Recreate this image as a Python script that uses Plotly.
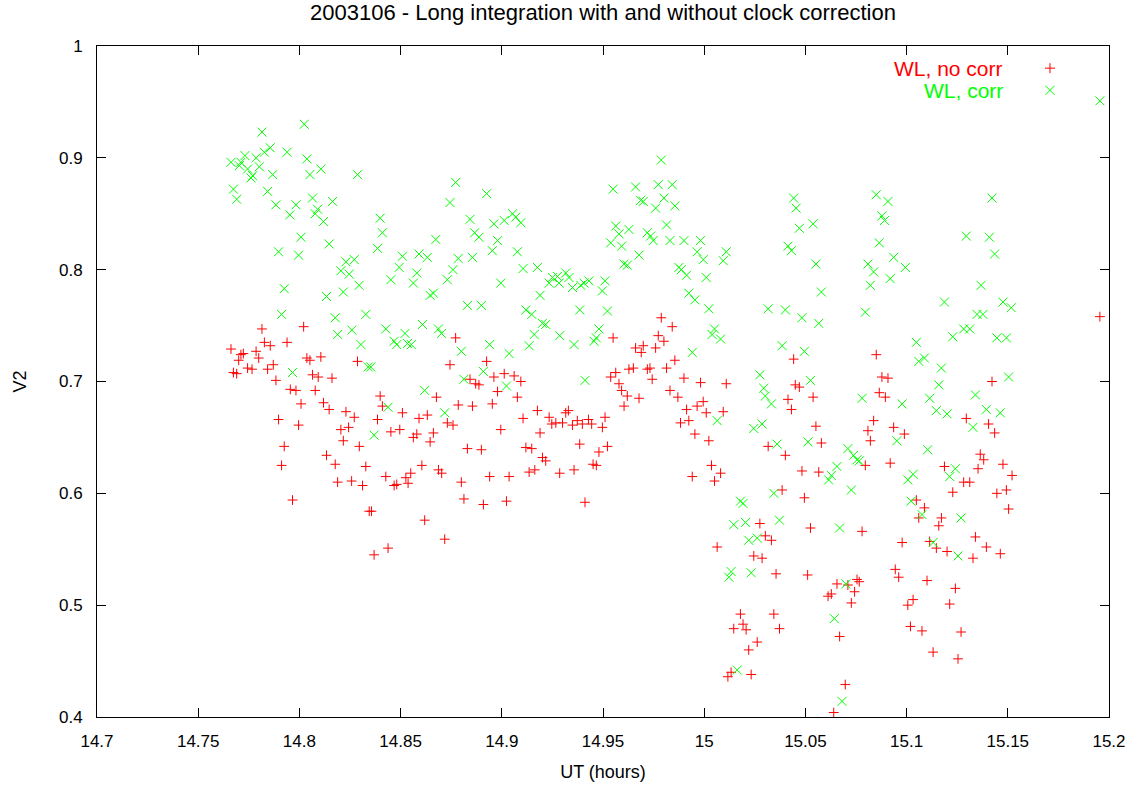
import plotly.graph_objects as go

# ---------------- data ----------------
ut_nocorr = [
    14.7815, 14.8021, 14.7827, 14.7856, 14.7939, 14.7662, 14.7723, 14.7711, 14.7786, 14.7700,
    14.7799, 14.7871, 14.7744, 14.7766, 14.7843, 14.7674, 14.7690, 14.8037, 14.8052, 14.8106,
    14.8287, 14.7884, 14.8065, 14.8093, 14.8161, 14.7955, 14.7983, 14.8078, 14.8008, 14.8119,
    14.8147, 14.8230, 14.8271,
    14.7897, 14.7996, 14.8243, 14.8205, 14.8217, 14.8296, 14.7925, 14.8134, 14.8177, 14.7912,
    14.8189, 14.8258, 14.7966,
    14.8772, 14.8744, 14.8925, 14.8961, 14.8843, 14.8871, 14.8887, 14.8399, 14.8677, 14.8410,
    14.8785, 14.8855, 14.8953, 14.8509, 14.8632,
    14.8386, 14.8591, 14.8731, 14.8759, 14.8452, 14.8496, 14.8563, 14.8580, 14.8662, 14.8646,
    14.8830, 14.8899, 14.8328, 14.8427, 14.8605, 14.8550, 14.8526, 14.8468, 14.8481, 14.8537,
    14.8687, 14.8703, 14.8800, 14.8940, 14.8312, 14.8813, 14.8909, 14.8345, 14.8356, 14.8619,
    14.8718, 14.8438, 14.8369,
    14.9550, 14.9012, 14.9061, 14.9094, 14.8979, 14.9077, 14.9563, 14.9538, 14.9579, 14.9592,
    14.9628, 14.9620, 14.9604, 14.9176, 14.9316, 14.9329,
    14.9105, 14.9234, 14.9247, 14.9267, 14.9300, 14.9349, 14.9373, 14.9398, 14.9428, 14.9444,
    14.9510, 14.9497, 14.8995, 14.9189, 14.9385, 14.9522, 14.9119, 14.9148, 14.9480, 14.9201,
    14.9217, 14.9451, 14.9467, 14.9135, 14.9163, 14.9286, 14.9357, 14.9036, 14.9023, 14.9411,
    14.9788, 14.9842, 14.9773, 14.9801, 14.9661, 14.9699, 14.9689, 14.9760, 14.9855, 14.9650,
    14.9719, 14.9732, 14.9814, 14.9743, 14.9900, 14.9982, 15.0109, 14.9831, 14.9870, 14.9678,
    14.9913, 14.9965, 14.9995, 15.0010, 15.0094,
    14.9883, 14.9924, 14.9954, 15.0023, 15.0036, 15.0081, 14.9941, 15.0051, 15.0275, 15.0064,
    15.0245, 15.0286, 15.0179, 15.0192, 15.0146, 15.0207, 15.0262, 15.0220, 15.0133, 15.0117,
    15.0232,
    15.0442, 15.0450, 15.0470, 15.0538, 15.0414, 15.0431, 15.0850, 15.0878, 15.0908, 15.0865,
    15.0895,
    15.0552, 15.0837, 15.0936, 15.0809, 15.0821, 15.0316, 15.0579, 15.0401, 15.0483, 15.0566,
    15.0796, 15.0919, 15.0385, 15.0495, 15.0525, 15.0780, 15.0302, 15.0332, 15.0355, 15.0511,
    15.0944, 15.0961, 15.0656, 15.0710, 15.0755, 15.0766, 15.0743, 15.0628, 15.0612, 15.0727,
    15.0344, 15.0372, 15.0669, 15.0697, 15.0640,
    15.1422,
    15.1295, 15.1405, 15.1435, 15.0989, 15.1364, 15.1381, 15.1476, 15.1187, 15.1353, 15.1521,
    15.1282, 15.1312, 15.1493, 15.1446, 15.1228, 15.1048, 15.1088, 15.1504, 15.1060, 15.1172,
    15.1159, 15.1340, 15.0978, 15.1114, 15.1147, 15.1200, 15.1394, 15.1463, 15.1328, 15.1101,
    15.1241, 15.1032, 15.1006, 15.1213, 15.1019, 15.1076, 15.1269, 15.1131, 15.1254,
    15.1955,
]
v2_nocorr = [
    0.747, 0.749, 0.735, 0.732, 0.735, 0.729, 0.725, 0.724, 0.727, 0.719,
    0.721, 0.715, 0.712, 0.711, 0.711, 0.708, 0.707, 0.721, 0.719, 0.722,
    0.718, 0.701, 0.706, 0.704, 0.703, 0.693, 0.692, 0.692, 0.680, 0.681,
    0.675, 0.673, 0.668,
    0.666, 0.661, 0.659, 0.657, 0.647, 0.642, 0.642, 0.634, 0.626, 0.625,
    0.610, 0.611, 0.594,
    0.739, 0.715, 0.718, 0.704, 0.702, 0.698, 0.697, 0.687, 0.686, 0.678,
    0.679, 0.678, 0.680, 0.672, 0.670,
    0.666, 0.667, 0.663, 0.661, 0.655, 0.657, 0.650, 0.653, 0.654, 0.646,
    0.640, 0.639, 0.624, 0.615, 0.625, 0.618, 0.614, 0.607, 0.608, 0.609,
    0.621, 0.618, 0.610, 0.615, 0.607, 0.595, 0.590, 0.584, 0.584, 0.576,
    0.559, 0.551, 0.545,
    0.739, 0.707, 0.705, 0.700, 0.691, 0.686, 0.708, 0.704, 0.698, 0.692,
    0.711, 0.687, 0.678, 0.674, 0.672, 0.674,
    0.667, 0.668, 0.662, 0.663, 0.663, 0.661, 0.665, 0.662, 0.666, 0.662,
    0.668, 0.659, 0.657, 0.654, 0.644, 0.642, 0.641, 0.640, 0.637, 0.632,
    0.629, 0.626, 0.625, 0.619, 0.621, 0.618, 0.621, 0.615, 0.593, 0.592,
    0.757, 0.749, 0.741, 0.736, 0.730, 0.732, 0.726, 0.730, 0.719, 0.712,
    0.711, 0.712, 0.712, 0.702, 0.703, 0.699, 0.698, 0.692, 0.686, 0.685,
    0.675, 0.678, 0.682, 0.672, 0.673,
    0.663, 0.665, 0.653, 0.647, 0.625, 0.618, 0.615, 0.611, 0.573, 0.552,
    0.544, 0.542, 0.492, 0.483, 0.479, 0.478, 0.467, 0.460, 0.440, 0.436,
    0.438,
    0.720, 0.697, 0.695, 0.686, 0.684, 0.675, 0.724, 0.704, 0.703, 0.690,
    0.686,
    0.660, 0.665, 0.659, 0.656, 0.647, 0.642, 0.645, 0.634, 0.620, 0.619,
    0.625, 0.627, 0.603, 0.596, 0.569, 0.566, 0.562, 0.558, 0.528, 0.527,
    0.532, 0.525, 0.519, 0.518, 0.523, 0.521, 0.512, 0.510, 0.508, 0.502,
    0.492, 0.479, 0.472, 0.429, 0.404,
    0.700,
    0.667, 0.662, 0.654, 0.653, 0.635, 0.630, 0.626, 0.624, 0.622, 0.616,
    0.610, 0.610, 0.603, 0.600, 0.601, 0.594, 0.587, 0.586, 0.578, 0.578,
    0.571, 0.561, 0.556, 0.557, 0.551, 0.548, 0.552, 0.546, 0.542, 0.522,
    0.515, 0.505, 0.500, 0.501, 0.481, 0.477, 0.476, 0.458, 0.452,
    0.758,
]

ut_corr = [
    14.8024, 14.7815, 14.7856, 14.7827, 14.7939, 14.7731, 14.7786, 14.7662, 14.7711, 14.7703,
    14.7802, 14.7744, 14.7769, 14.7761, 14.8037, 14.8106, 14.8052, 14.8287, 14.7868, 14.7674,
    14.7690, 14.7843, 14.7884, 14.7983, 14.8065, 14.8164, 14.8090, 14.8078, 14.7953, 14.8119,
    14.8008, 14.8147, 14.7897, 14.7996, 14.8230, 14.8271, 14.8205, 14.8246, 14.8295, 14.7925,
    14.8217, 14.8134, 14.7912, 14.8177, 14.8259, 14.8189, 14.8304, 14.7966,
    14.8772, 14.8925, 14.8744, 14.8399, 14.8843, 14.8961, 14.8410, 14.8866, 14.8887, 14.8674,
    14.8386, 14.8953, 14.8509, 14.8591, 14.8632, 14.8785, 14.8855, 14.8493, 14.8580, 14.8759,
    14.8452, 14.8563, 14.8731, 14.8646, 14.8662, 14.8830, 14.8899, 14.8328, 14.8427, 14.8608,
    14.8687, 14.8702, 14.8522, 14.8468, 14.8481, 14.8534, 14.8553, 14.8940, 14.8800, 14.8340,
    14.8353, 14.8909, 14.8813, 14.8619, 14.8438, 14.8718,
    14.8369,
    14.9550, 14.9053, 14.9012, 14.9069, 14.9094, 14.9563, 14.9628, 14.9579, 14.9538, 14.9592,
    14.8979, 14.9077, 14.9105, 14.9176, 14.9604, 14.9620, 14.8995, 14.9250, 14.9275, 14.9316,
    14.9234, 14.9283, 14.9332, 14.9349, 14.9390, 14.9431, 14.9406, 14.9510, 14.9497, 14.9189,
    14.9385, 14.9522, 14.9119, 14.9148, 14.9201, 14.9217, 14.9160, 14.9286, 14.9480, 14.9467,
    14.9456, 14.9357, 14.9135, 14.9036, 14.9411, 14.9023,
    14.9788, 14.9661, 14.9773, 14.9842, 14.9686, 14.9699, 14.9801, 14.9760, 14.9855, 14.9814,
    14.9719, 14.9735, 14.9748, 14.9831, 14.9900, 14.9982, 14.9965, 14.9995, 15.0109, 15.0094,
    14.9678, 14.9875, 14.9887, 14.9913, 15.0010, 14.9924, 14.9954, 15.0023, 15.0051, 15.0039,
    15.0081, 14.9941, 15.0275, 15.0294,
    15.0064, 15.0245, 15.0286, 15.0179, 15.0192, 15.0146, 15.0204, 15.0220, 15.0262, 15.0133,
    15.0122, 15.0232, 15.0163,
    15.0442, 15.0454, 15.0470, 15.0538, 15.0414, 15.0431, 15.0552, 15.0579, 15.0316, 15.0401,
    15.0483, 15.0566, 15.0385, 15.0495, 15.0525, 15.0302, 15.0332, 15.0850, 15.0908, 15.0878,
    15.0891, 15.0865, 15.0936, 15.0809, 15.0837, 15.0919, 15.0821, 15.0796, 15.0780,
    15.0360, 15.0513, 15.0710, 15.0738, 15.0755, 15.0766, 15.0952, 15.0656, 15.0628, 15.0615,
    15.0344, 15.0727, 15.0372, 15.0669, 15.0700, 15.0643, 15.0681,
    15.1422, 15.1295, 15.1409, 15.1435, 15.0994, 15.1368, 15.1187, 15.1476, 15.1517, 15.1348,
    15.1377, 15.1282, 15.1312, 15.1228, 15.1446, 15.1493, 15.1048, 15.1060, 15.1088, 15.1172,
    15.1504, 15.1159, 15.1114, 15.1340, 15.0978, 15.1147, 15.1200, 15.1394, 15.1463,
    15.1328, 15.1104, 15.1032, 15.1006, 15.1241, 15.1213, 15.1022, 15.1076, 15.1269, 15.1131,
    15.1254,
    15.1955,
]
v2_corr = [
    0.930, 0.923, 0.909, 0.905, 0.905, 0.902, 0.900, 0.896, 0.896, 0.893,
    0.892, 0.890, 0.884, 0.882, 0.899, 0.890, 0.885, 0.885, 0.885, 0.872,
    0.863, 0.870, 0.858, 0.858, 0.864, 0.861, 0.854, 0.850, 0.849, 0.843,
    0.829, 0.823, 0.816, 0.813, 0.807, 0.809, 0.799, 0.796, 0.786, 0.783,
    0.780, 0.776, 0.760, 0.757, 0.746, 0.742, 0.733, 0.708,
    0.878, 0.868, 0.860, 0.846, 0.845, 0.841, 0.833, 0.833, 0.829, 0.827,
    0.819, 0.817, 0.812, 0.814, 0.811, 0.810, 0.811, 0.802, 0.797, 0.800,
    0.791, 0.788, 0.791, 0.777, 0.779, 0.768, 0.768, 0.760, 0.747, 0.751,
    0.747, 0.743, 0.743, 0.736, 0.733, 0.734, 0.733, 0.733, 0.727, 0.713,
    0.713, 0.709, 0.702, 0.692, 0.677, 0.672,
    0.652,
    0.872, 0.850, 0.844, 0.847, 0.842, 0.839, 0.836, 0.832, 0.824, 0.821,
    0.826, 0.816, 0.801, 0.802, 0.805, 0.804, 0.788, 0.793, 0.794, 0.797,
    0.788, 0.788, 0.793, 0.784, 0.786, 0.790, 0.788, 0.790, 0.781, 0.777,
    0.764, 0.763, 0.764, 0.760, 0.752, 0.751, 0.742, 0.741, 0.747, 0.739,
    0.736, 0.733, 0.732, 0.725, 0.701, 0.696,
    0.898, 0.874, 0.876, 0.876, 0.862, 0.861, 0.864, 0.855, 0.857, 0.840,
    0.833, 0.830, 0.826, 0.826, 0.826, 0.826, 0.816, 0.809, 0.816, 0.808,
    0.813, 0.802, 0.800, 0.795, 0.793, 0.779, 0.773, 0.765, 0.747, 0.742,
    0.738, 0.726, 0.706, 0.694,
    0.665, 0.658, 0.662, 0.593, 0.591, 0.572, 0.574, 0.558, 0.560, 0.530,
    0.525, 0.529, 0.442,
    0.864, 0.855, 0.837, 0.841, 0.821, 0.817, 0.805, 0.780, 0.765, 0.764,
    0.757, 0.752, 0.732, 0.727, 0.701, 0.687, 0.680, 0.867, 0.861, 0.848,
    0.844, 0.824, 0.811, 0.805, 0.798, 0.792, 0.786, 0.762, 0.685,
    0.644, 0.646, 0.640, 0.634, 0.630, 0.629, 0.647, 0.624, 0.616, 0.612,
    0.600, 0.603, 0.576, 0.569, 0.519, 0.488, 0.414,
    0.864, 0.830, 0.829, 0.814, 0.802, 0.786, 0.771, 0.771, 0.766, 0.760,
    0.760, 0.747, 0.747, 0.740, 0.739, 0.739, 0.735, 0.718, 0.721, 0.712,
    0.704, 0.697, 0.685, 0.688, 0.680, 0.674, 0.671, 0.675, 0.672,
    0.659, 0.639, 0.617, 0.612, 0.622, 0.615, 0.593, 0.581, 0.578, 0.556,
    0.544,
    0.951,
]

series_names = ["WL, no corr", "WL, corr"]
series_colors = ["#ff0000", "#00ff00"]
x_ticks = [14.7, 14.75, 14.8, 14.85, 14.9, 14.95, 15.0, 15.05, 15.1, 15.15, 15.2]
x_tick_text = ["14.7", "14.75", "14.8", "14.85", "14.9", "14.95", "15", "15.05", "15.1", "15.15", "15.2"]
y_ticks = [0.4, 0.5, 0.6, 0.7, 0.8, 0.9, 1.0]
y_tick_text = ["0.4", "0.5", "0.6", "0.7", "0.8", "0.9", "1"]

FONT = "Liberation Sans, Arial, Helvetica, sans-serif"
FS_TICK = 17
FS_TITLE = 22
FS_AXIS = 18
FS_KEY = 21

fig = go.Figure()
fig.add_trace(go.Scatter(
    x=ut_nocorr, y=v2_nocorr, mode="markers", name=series_names[0],
    marker=dict(symbol="cross-thin", size=7, line=dict(color=series_colors[0], width=1)),
    showlegend=False,
))
fig.add_trace(go.Scatter(
    x=ut_corr, y=v2_corr, mode="markers", name=series_names[1],
    marker=dict(symbol="x-thin", size=9, line=dict(color=series_colors[1], width=1)),
    showlegend=False,
))

axis_common = dict(
    showgrid=False, zeroline=False, showline=True, linecolor="black", linewidth=1,
    mirror="ticks", ticks="inside", ticklen=9, tickwidth=1, tickcolor="black",
    tickfont=dict(family=FONT, size=FS_TICK, color="black"),
)
fig.update_xaxes(range=[14.7, 15.2], tickvals=x_ticks, ticktext=x_tick_text,
                 ticklabelstandoff=9,
                 title=dict(text="UT (hours)", font=dict(family=FONT, size=FS_AXIS, color="black"), standoff=14),
                 **axis_common)
fig.update_yaxes(range=[0.4, 1.0], tickvals=y_ticks, ticktext=y_tick_text,
                 ticklabelstandoff=10,
                 title=dict(text="V2", font=dict(family=FONT, size=FS_AXIS, color="black"), standoff=27),
                 **axis_common)

# gnuplot-style key: text right-aligned, sample to its right
key_text_x = 0.897
key_sample_x = 0.9417
key_rows_y = [0.967, 0.934]
annotations = []
shapes = []
for i, (name, col) in enumerate(zip(series_names, series_colors)):
    annotations.append(dict(
        x=key_text_x, y=key_rows_y[i], xref="paper", yref="paper",
        text=name, showarrow=False, xanchor="right", yanchor="middle",
        font=dict(family=FONT, size=FS_KEY, color=col),
    ))
# "+" sample
shapes.append(dict(type="line", xref="paper", yref="paper", xsizemode="pixel", ysizemode="pixel",
                   xanchor=key_sample_x, yanchor=key_rows_y[0], x0=-5, x1=5, y0=0, y1=0,
                   line=dict(color=series_colors[0], width=1)))
shapes.append(dict(type="line", xref="paper", yref="paper", xsizemode="pixel", ysizemode="pixel",
                   xanchor=key_sample_x, yanchor=key_rows_y[0], x0=0, x1=0, y0=-5, y1=5,
                   line=dict(color=series_colors[0], width=1)))
# "x" sample
shapes.append(dict(type="line", xref="paper", yref="paper", xsizemode="pixel", ysizemode="pixel",
                   xanchor=key_sample_x, yanchor=key_rows_y[1], x0=-4.5, x1=4.5, y0=-4.5, y1=4.5,
                   line=dict(color=series_colors[1], width=1)))
shapes.append(dict(type="line", xref="paper", yref="paper", xsizemode="pixel", ysizemode="pixel",
                   xanchor=key_sample_x, yanchor=key_rows_y[1], x0=-4.5, x1=4.5, y0=4.5, y1=-4.5,
                   line=dict(color=series_colors[1], width=1)))

fig.update_layout(
    width=1137, height=790,
    margin=dict(l=97, r=28, t=46, b=73),
    paper_bgcolor="white", plot_bgcolor="white",
    title=dict(text="2003106 - Long integration with and without clock correction",
               x=0.5, xref="paper", xanchor="center", y=0.984, yref="container", yanchor="middle",
               font=dict(family=FONT, size=FS_TITLE, color="black")),
    annotations=annotations, shapes=shapes,
    showlegend=False,
)

fig.write_html("out.html")
